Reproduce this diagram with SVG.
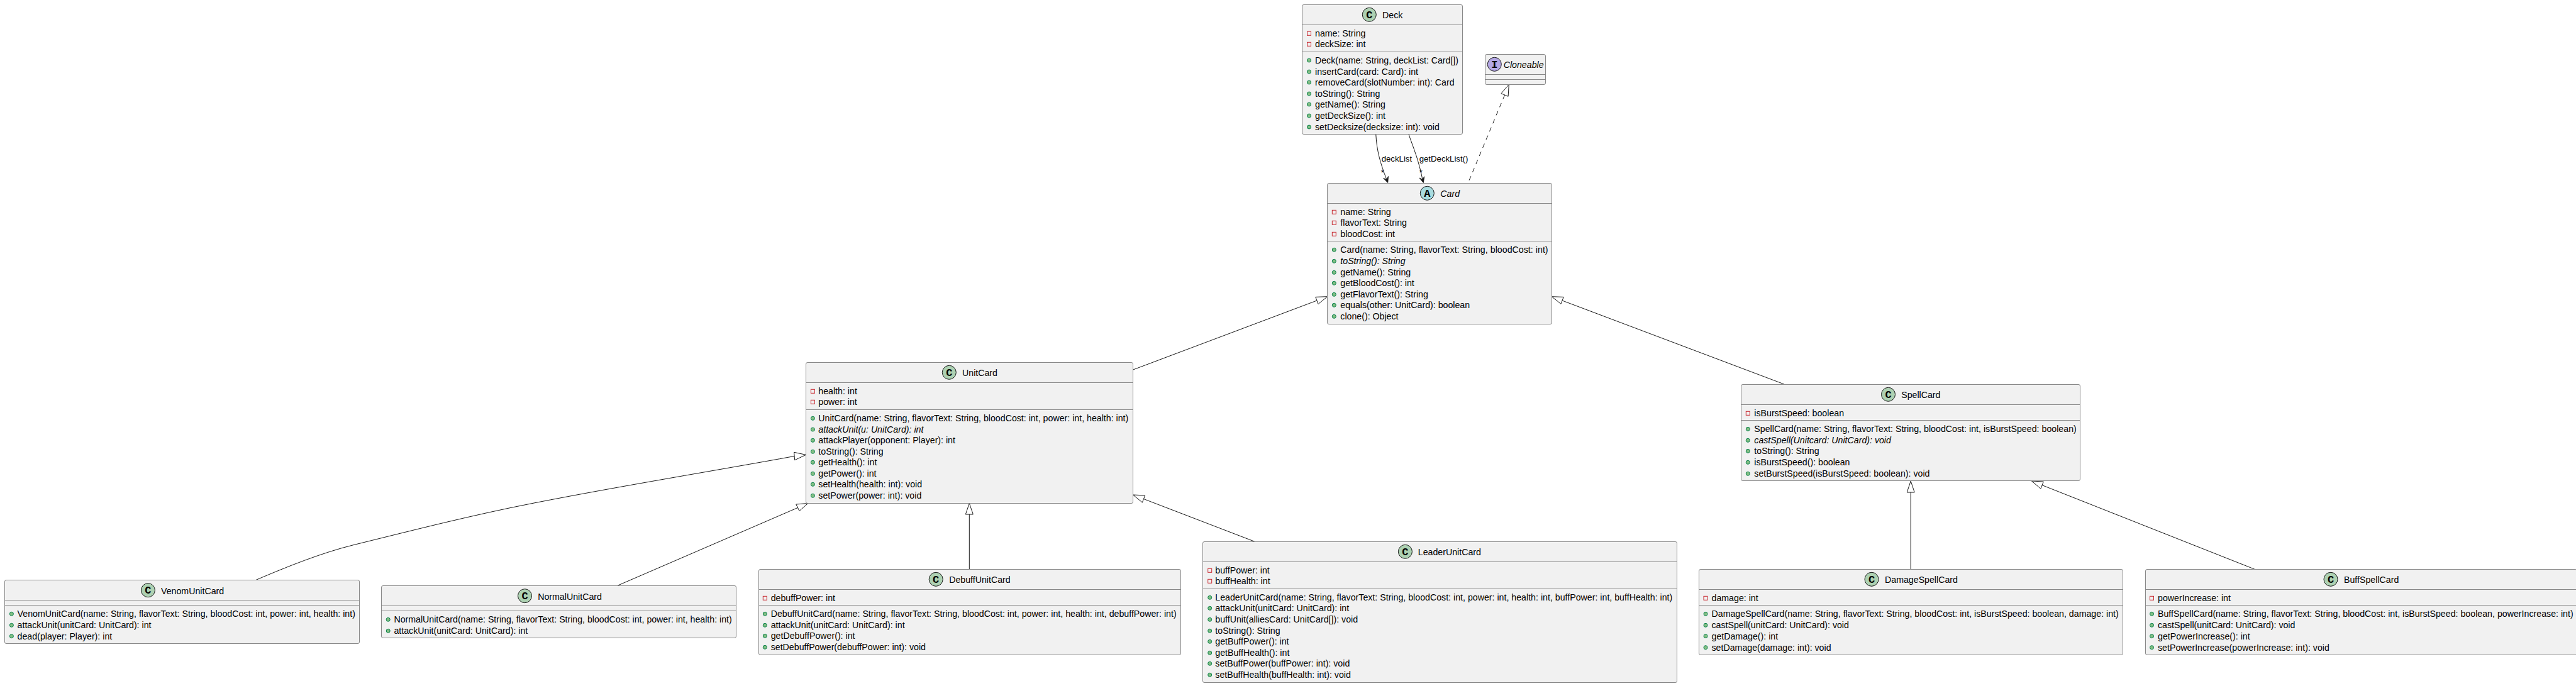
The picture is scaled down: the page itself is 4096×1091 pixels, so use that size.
<svg xmlns="http://www.w3.org/2000/svg" width="4096" height="1091" viewBox="0 0 4096 1091">
<style>
text{font-family:"Liberation Sans",Arial,sans-serif;font-size:14.2px;fill:#000}
.i{font-style:italic}
.l{font-size:13.2px}
.g{font-family:"Liberation Mono",monospace;font-size:17px;font-weight:bold;text-anchor:middle;fill:#000}
.box{fill:#F1F1F1;stroke:#888;stroke-width:1}
.sep{stroke:#888;stroke-width:1}
.cc{stroke:#181818;stroke-width:1;fill:#ADD1B2}
.ca{stroke:#181818;stroke-width:1;fill:#A9DCDF}
.ci{stroke:#181818;stroke-width:1;fill:#B4A7E5}
.line{fill:none;stroke:#181818;stroke-width:1}
.dash{stroke-dasharray:7 7}
.tri{fill:#fff;stroke:#181818;stroke-width:1}
.head{fill:#181818;stroke:#181818;stroke-width:1}
</style>
<defs>
<circle id="pub" r="3" fill="#84BE84" stroke="#038048"/>
<rect id="priv" x="-3" y="-3" width="6" height="6" fill="none" stroke="#C82930"/>
</defs>
<g id="connectors">
<path class="line" d="M2187.7,213 C2189,240 2195,260 2205,286"/>
<polygon class="head" points="2206.7,290.5 2207.4,280.6 2205,285.8 2199.8,283.4"/>
<text class="l" x="2196.7" y="257.3">deckList</text>
<text class="l" x="2195.8" y="279">*</text>
<path class="line" d="M2239.7,213 C2247,234 2256,255 2262,286"/>
<polygon class="head" points="2263.3,290.5 2264.7,280.8 2262,285.7 2257,283"/>
<text class="l" x="2256.7" y="257.3">getDeckList()</text>
<text class="l" x="2256.8" y="279">*</text>
<line class="line dash" x1="2392.6" y1="151" x2="2336" y2="287"/>
<polygon class="tri" points="2399.3,134.3 2398.1,153.3 2387,148.7"/>
<line class="line" x1="2093.9" y1="478" x2="1801.7" y2="588"/>
<polygon class="tri" points="2110.7,471.7 2096,483.6 2091.8,472.4"/>
<line class="line" x1="2484.1" y1="478" x2="2836.8" y2="611"/>
<polygon class="tri" points="2467.3,471.7 2486.2,472.4 2482,483.3"/>
<path class="line" d="M407.2,922.3 C457,901 512,879 562,866.7 C662,842 749,819.6 849,800 C989,772.6 1140,748 1263,725.5"/>
<polygon class="tri" points="1281.5,723.3 1262.6,719.3 1263.7,731.7"/>
<line class="line" x1="981" y1="931.7" x2="1268.3" y2="807.5"/>
<polygon class="tri" points="1284.8,800.5 1265.8,802 1271,812.6"/>
<line class="line" x1="1541.3" y1="818" x2="1541.3" y2="905.3"/>
<polygon class="tri" points="1541.3,800.5 1535.3,818 1547.3,818"/>
<line class="line" x1="1818.5" y1="793.5" x2="1996" y2="861.7"/>
<polygon class="tri" points="1801.7,787 1820.7,787.9 1816.3,799.1"/>
<line class="line" x1="3038.2" y1="783" x2="3038.2" y2="905.3"/>
<polygon class="tri" points="3038.2,765 3032.2,783 3044.2,783"/>
<line class="line" x1="3247.1" y1="771.6" x2="3585" y2="905.3"/>
<polygon class="tri" points="3230.4,765 3249.3,766 3244.9,777.2"/>
</g>
<g id="Deck">
<rect class="box" x="2070.5" y="7.5" width="255" height="206" rx="2.5"/>
<line class="sep" x1="2070.5" y1="39.5" x2="2325.5" y2="39.5"/>
<line class="sep" x1="2070.5" y1="82.5" x2="2325.5" y2="82.5"/>
<circle class="cc" cx="2177.3" cy="23.3" r="11"/><text class="g" x="2177.3" y="29">C</text>
<text x="2198" y="29.3">Deck</text>
<use href="#priv" x="2081.5" y="53.3"/><text x="2091" y="58.3">name: String</text>
<use href="#priv" x="2081.5" y="70.3"/><text x="2091" y="75.3">deckSize: int</text>
<use href="#pub" x="2081.5" y="96"/><text x="2091" y="101" textLength="228">Deck(name: String, deckList: Card[])</text>
<use href="#pub" x="2081.5" y="114"/><text x="2091" y="118.5">insertCard(card: Card): int</text>
<use href="#pub" x="2081.5" y="131"/><text x="2091" y="136">removeCard(slotNumber: int): Card</text>
<use href="#pub" x="2081.5" y="149"/><text x="2091" y="154">toString(): String</text>
<use href="#pub" x="2081.5" y="166"/><text x="2091" y="171">getName(): String</text>
<use href="#pub" x="2081.5" y="184"/><text x="2091" y="189">getDeckSize(): int</text>
<use href="#pub" x="2081.5" y="202"/><text x="2091" y="206.5">setDecksize(decksize: int): void</text>
</g>
<g id="Cloneable">
<rect class="box" x="2361.5" y="86.5" width="96" height="48" rx="2.5"/>
<line class="sep" x1="2361.5" y1="118.5" x2="2457.5" y2="118.5"/>
<line class="sep" x1="2361.5" y1="126.5" x2="2457.5" y2="126.5"/>
<circle class="ci" cx="2376.3" cy="102.3" r="11"/><text class="g" x="2376.3" y="108">I</text>
<text class="i" x="2390.7" y="108.3">Cloneable</text>
</g>
<g id="Card">
<rect class="box" x="2110.5" y="291.5" width="357" height="224" rx="2.5"/>
<line class="sep" x1="2110.5" y1="323.5" x2="2467.5" y2="323.5"/>
<line class="sep" x1="2110.5" y1="383.5" x2="2467.5" y2="383.5"/>
<circle class="ca" cx="2269.3" cy="307.3" r="11"/><text class="g" x="2269.3" y="313">A</text>
<text class="i" x="2290.3" y="313">Card</text>
<use href="#priv" x="2121.3" y="337.3"/><text x="2131.3" y="342.3">name: String</text>
<use href="#priv" x="2121.3" y="354.3"/><text x="2131.3" y="359.3">flavorText: String</text>
<use href="#priv" x="2121.3" y="372.3"/><text x="2131.3" y="377.3">bloodCost: int</text>
<use href="#pub" x="2121.3" y="397.3"/><text x="2131.3" y="402.3" textLength="330.3">Card(name: String, flavorText: String, bloodCost: int)</text>
<use href="#pub" x="2121.3" y="415.3"/><text class="i" x="2131.3" y="420.3">toString(): String</text>
<use href="#pub" x="2121.3" y="433.3"/><text x="2131.3" y="438.3">getName(): String</text>
<use href="#pub" x="2121.3" y="450.3"/><text x="2131.3" y="455.3">getBloodCost(): int</text>
<use href="#pub" x="2121.3" y="468.3"/><text x="2131.3" y="473.3">getFlavorText(): String</text>
<use href="#pub" x="2121.3" y="485.3"/><text x="2131.3" y="490.3">equals(other: UnitCard): boolean</text>
<use href="#pub" x="2121.3" y="503.3"/><text x="2131.3" y="508.3">clone(): Object</text>
</g>
<g id="UnitCard">
<rect class="box" x="1281.5" y="576.5" width="520" height="224" rx="2.5"/>
<line class="sep" x1="1281.5" y1="608.5" x2="1801.5" y2="608.5"/>
<line class="sep" x1="1281.5" y1="651.5" x2="1801.5" y2="651.5"/>
<circle class="cc" cx="1509.3" cy="592.3" r="11"/><text class="g" x="1509.3" y="598">C</text>
<text x="1530" y="598.3">UnitCard</text>
<use href="#priv" x="1292.4" y="622.3"/><text x="1301.3" y="627.3">health: int</text>
<use href="#priv" x="1292.4" y="639.3"/><text x="1301.3" y="644.3">power: int</text>
<use href="#pub" x="1292.4" y="665.3"/><text x="1301.3" y="670.3" textLength="493">UnitCard(name: String, flavorText: String, bloodCost: int, power: int, health: int)</text>
<use href="#pub" x="1292.4" y="683"/><text class="i" x="1301.3" y="688">attackUnit(u: UnitCard): int</text>
<use href="#pub" x="1292.4" y="700.3"/><text x="1301.3" y="705.3">attackPlayer(opponent: Player): int</text>
<use href="#pub" x="1292.4" y="718.3"/><text x="1301.3" y="723.3">toString(): String</text>
<use href="#pub" x="1292.4" y="735.3"/><text x="1301.3" y="740.3">getHealth(): int</text>
<use href="#pub" x="1292.4" y="753.3"/><text x="1301.3" y="758.3">getPower(): int</text>
<use href="#pub" x="1292.4" y="770.3"/><text x="1301.3" y="775.3">setHealth(health: int): void</text>
<use href="#pub" x="1292.4" y="788.3"/><text x="1301.3" y="793.3">setPower(power: int): void</text>
</g>
<g id="SpellCard">
<rect class="box" x="2768.5" y="611.5" width="539" height="153" rx="2.5"/>
<line class="sep" x1="2768.5" y1="643.5" x2="3307.5" y2="643.5"/>
<line class="sep" x1="2768.5" y1="668.5" x2="3307.5" y2="668.5"/>
<circle class="cc" cx="3002.5" cy="627.3" r="11"/><text class="g" x="3002.5" y="633">C</text>
<text x="3023.2" y="633.3">SpellCard</text>
<use href="#priv" x="2779.3" y="657.3"/><text x="2789.3" y="662.3">isBurstSpeed: boolean</text>
<use href="#pub" x="2779.3" y="682.3"/><text x="2789.3" y="687.3" textLength="512.5">SpellCard(name: String, flavorText: String, bloodCost: int, isBurstSpeed: boolean)</text>
<use href="#pub" x="2779.3" y="700.3"/><text class="i" x="2789.3" y="705.3">castSpell(Unitcard: UnitCard): void</text>
<use href="#pub" x="2779.3" y="717.3"/><text x="2789.3" y="722.3">toString(): String</text>
<use href="#pub" x="2779.3" y="735.3"/><text x="2789.3" y="740.3">isBurstSpeed(): boolean</text>
<use href="#pub" x="2779.3" y="753.3"/><text x="2789.3" y="758.3">setBurstSpeed(isBurstSpeed: boolean): void</text>
</g>
<g id="VenomUnitCard">
<rect class="box" x="7.5" y="922.5" width="564" height="101" rx="2.5"/>
<line class="sep" x1="7.5" y1="954.5" x2="571.5" y2="954.5"/>
<line class="sep" x1="7.5" y1="962.5" x2="571.5" y2="962.5"/>
<circle class="cc" cx="235.4" cy="938.7" r="11"/><text class="g" x="235.4" y="944.4">C</text>
<text x="256" y="944.7">VenomUnitCard</text>
<use href="#pub" x="18.4" y="976.3"/><text x="27.6" y="981.3" textLength="537.3">VenomUnitCard(name: String, flavorText: String, bloodCost: int, power: int, health: int)</text>
<use href="#pub" x="18.4" y="994.3"/><text x="27.6" y="999.3">attackUnit(unitCard: UnitCard): int</text>
<use href="#pub" x="18.4" y="1011.7"/><text x="27.6" y="1016.7">dead(player: Player): int</text>
</g>
<g id="NormalUnitCard">
<rect class="box" x="606.5" y="931.5" width="564" height="83" rx="2.5"/>
<line class="sep" x1="606.5" y1="963.5" x2="1170.5" y2="963.5"/>
<line class="sep" x1="606.5" y1="971.5" x2="1170.5" y2="971.5"/>
<circle class="cc" cx="834.5" cy="947.7" r="11"/><text class="g" x="834.5" y="953.4">C</text>
<text x="855.2" y="953.7">NormalUnitCard</text>
<use href="#pub" x="617.2" y="985.3"/><text x="626.4" y="990.3" textLength="537.3">NormalUnitCard(name: String, flavorText: String, bloodCost: int, power: int, health: int)</text>
<use href="#pub" x="617.2" y="1003.3"/><text x="626.4" y="1008.3">attackUnit(unitCard: UnitCard): int</text>
</g>
<g id="DebuffUnitCard">
<rect class="box" x="1206.5" y="905.5" width="671" height="136" rx="2.5"/>
<line class="sep" x1="1206.5" y1="937.5" x2="1877.5" y2="937.5"/>
<line class="sep" x1="1206.5" y1="962.5" x2="1877.5" y2="962.5"/>
<circle class="cc" cx="1488.2" cy="921.3" r="11"/><text class="g" x="1488.2" y="927">C</text>
<text x="1509.2" y="927.3">DebuffUnitCard</text>
<use href="#priv" x="1216.3" y="951.3"/><text x="1225.7" y="956.3">debuffPower: int</text>
<use href="#pub" x="1216.3" y="976.3"/><text x="1225.7" y="981.3" textLength="645">DebuffUnitCard(name: String, flavorText: String, bloodCost: int, power: int, health: int, debuffPower: int)</text>
<use href="#pub" x="1216.3" y="994.3"/><text x="1225.7" y="999.3">attackUnit(unitCard: UnitCard): int</text>
<use href="#pub" x="1216.3" y="1011.3"/><text x="1225.7" y="1016.3">getDebuffPower(): int</text>
<use href="#pub" x="1216.3" y="1029.3"/><text x="1225.7" y="1034.3">setDebuffPower(debuffPower: int): void</text>
</g>
<g id="LeaderUnitCard">
<rect class="box" x="1912.5" y="861.5" width="754" height="224" rx="2.5"/>
<line class="sep" x1="1912.5" y1="893.5" x2="2666.5" y2="893.5"/>
<line class="sep" x1="1912.5" y1="936.5" x2="2666.5" y2="936.5"/>
<circle class="cc" cx="2234.4" cy="877.3" r="11"/><text class="g" x="2234.4" y="883">C</text>
<text x="2254.8" y="883.3">LeaderUnitCard</text>
<use href="#priv" x="1923.7" y="907.3"/><text x="1932.3" y="912.3">buffPower: int</text>
<use href="#priv" x="1923.7" y="924.3"/><text x="1932.3" y="929.3">buffHealth: int</text>
<use href="#pub" x="1923.7" y="950.3"/><text x="1932.3" y="955.3" textLength="727">LeaderUnitCard(name: String, flavorText: String, bloodCost: int, power: int, health: int, buffPower: int, buffHealth: int)</text>
<use href="#pub" x="1923.7" y="967.3"/><text x="1932.3" y="972.3">attackUnit(unitCard: UnitCard): int</text>
<use href="#pub" x="1923.7" y="985.3"/><text x="1932.3" y="990.3">buffUnit(alliesCard: UnitCard[]): void</text>
<use href="#pub" x="1923.7" y="1003.3"/><text x="1932.3" y="1008.3">toString(): String</text>
<use href="#pub" x="1923.7" y="1020.3"/><text x="1932.3" y="1025.3">getBuffPower(): int</text>
<use href="#pub" x="1923.7" y="1038.3"/><text x="1932.3" y="1043.3">getBuffHealth(): int</text>
<use href="#pub" x="1923.7" y="1055.3"/><text x="1932.3" y="1060.3">setBuffPower(buffPower: int): void</text>
<use href="#pub" x="1923.7" y="1073.3"/><text x="1932.3" y="1078.3">setBuffHealth(buffHealth: int): void</text>
</g>
<g id="DamageSpellCard">
<rect class="box" x="2701.5" y="905.5" width="674" height="136" rx="2.5"/>
<line class="sep" x1="2701.5" y1="937.5" x2="3375.5" y2="937.5"/>
<line class="sep" x1="2701.5" y1="962.5" x2="3375.5" y2="962.5"/>
<circle class="cc" cx="2976" cy="921.3" r="11"/><text class="g" x="2976" y="927">C</text>
<text x="2997" y="927.3">DamageSpellCard</text>
<use href="#priv" x="2712" y="951.3"/><text x="2721.5" y="956.3">damage: int</text>
<use href="#pub" x="2712" y="976.3"/><text x="2721.5" y="981.3" textLength="647.3">DamageSpellCard(name: String, flavorText: String, bloodCost: int, isBurstSpeed: boolean, damage: int)</text>
<use href="#pub" x="2712" y="994.3"/><text x="2721.5" y="999.3">castSpell(unitCard: UnitCard): void</text>
<use href="#pub" x="2712" y="1011.7"/><text x="2721.5" y="1016.7">getDamage(): int</text>
<use href="#pub" x="2712" y="1029.7"/><text x="2721.5" y="1034.7">setDamage(damage: int): void</text>
</g>
<g id="BuffSpellCard">
<rect class="box" x="3411.5" y="905.5" width="686" height="136" rx="2.5"/>
<line class="sep" x1="3411.5" y1="937.5" x2="4097.5" y2="937.5"/>
<line class="sep" x1="3411.5" y1="962.5" x2="4097.5" y2="962.5"/>
<circle class="cc" cx="3706" cy="921.3" r="11"/><text class="g" x="3706" y="927">C</text>
<text x="3727" y="927.3">BuffSpellCard</text>
<use href="#priv" x="3421.5" y="951.3"/><text x="3431" y="956.3">powerIncrease: int</text>
<use href="#pub" x="3421.5" y="976.3"/><text x="3431" y="981.3" textLength="660.7">BuffSpellCard(name: String, flavorText: String, bloodCost: int, isBurstSpeed: boolean, powerIncrease: int)</text>
<use href="#pub" x="3421.5" y="994.3"/><text x="3431" y="999.3">castSpell(unitCard: UnitCard): void</text>
<use href="#pub" x="3421.5" y="1011.7"/><text x="3431" y="1016.7">getPowerIncrease(): int</text>
<use href="#pub" x="3421.5" y="1029.7"/><text x="3431" y="1034.7">setPowerIncrease(powerIncrease: int): void</text>
</g>
</svg>
